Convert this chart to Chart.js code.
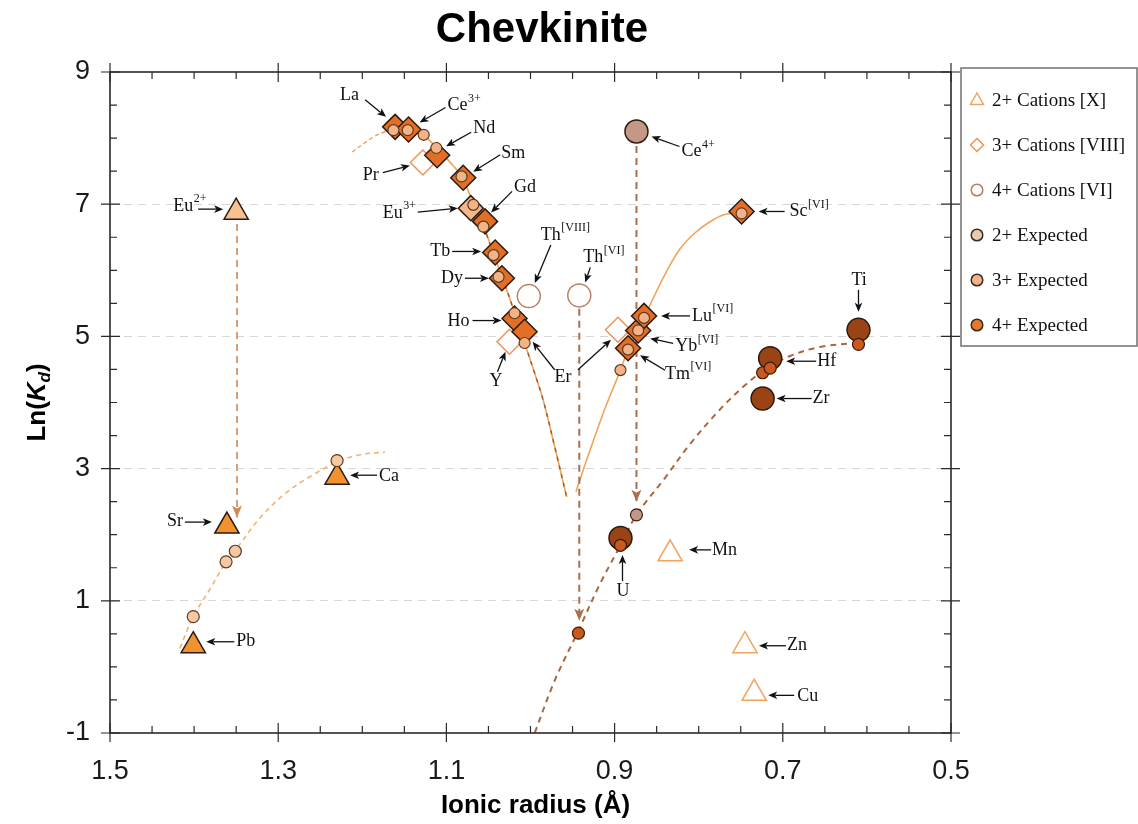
<!DOCTYPE html>
<html><head><meta charset="utf-8">
<script src="https://cdn.jsdelivr.net/npm/chart.js@4.4.1/dist/chart.umd.min.js"></script>
<style>html,body{margin:0;padding:0;background:#fff;}#wrap{width:1138px;height:824px;}</style>
</head><body><div id="wrap"><canvas id="c" width="1138" height="824"></canvas></div>
<script>
// ---------------- DATA ----------------
const xTickValues = [1.5, 1.3, 1.1, 0.9, 0.7, 0.5];
const yTickValues = [-1, 1, 3, 5, 7, 9];

const cat2Names  = ['Eu2+','Sr','Ca','Pb','Mn','Zn','Cu'];
const cat2Radius = [1.350, 1.361, 1.230, 1.401, 0.834, 0.745, 0.734];
const cat2LnKd   = [6.88, 2.13, 2.87, 0.32, 1.71, 0.32, -0.40];
const cat2Status = ['reduced','fit','fit','fit','other','other','other'];

const cat3Names  = ['La','Ce3+','Pr','Nd','Sm','Eu3+','Gd','Tb','Dy','Ho','Y','Er','Er[VI]','Tm[VI]','Yb[VI]','Lu[VI]','Sc[VI]'];
const cat3Radius = [1.161,1.145,1.128,1.111,1.080,1.071,1.054,1.042,1.034,1.019,1.025,1.007,0.896,0.884,0.872,0.865,0.749];
const cat3LnKd   = [8.17,8.13,7.63,7.74,7.40,6.94,6.74,6.27,5.88,5.27,4.92,5.07,5.10,4.82,5.09,5.31,6.89];
const cat3Status = ['fit','fit','other','fit','fit','reduced','fit','fit','fit','fit','other','fit','other','fit','fit','fit','fit'];

const cat4Names  = ['Ce4+','Th[VIII]','Th[VI]','U','Zr','Hf','Ti'];
const cat4Radius = [0.874,1.002,0.942,0.893,0.724,0.715,0.610];
const cat4LnKd   = [8.10,5.61,5.62,1.95,4.06,4.67,5.10];
const cat4Status = ['oxidised','other','other','fit','fit','fit','fit'];

const exp2Radius = [1.401,1.362,1.351,1.230];
const exp2LnKd   = [0.76,1.59,1.75,3.12];

const exp3Radius = [1.163,1.146,1.127,1.112,1.082,1.068,1.056,1.044,1.038,1.019,1.007,0.893,0.884,0.872,0.865,0.749];
const exp3LnKd   = [8.12,8.12,8.05,7.85,7.42,6.99,6.66,6.23,5.90,5.35,4.90,4.49,4.80,5.09,5.28,6.86];

const exp4Radius = [0.943,0.893,0.874,0.724,0.715,0.610];
const exp4LnKd   = [0.51,1.84,2.30,4.45,4.52,4.88];
const exp4Status = ['fit','fit','oxidised','fit','fit','fit'];

// fitted lattice-strain curves
const fit2Radius = [1.417,1.401,1.381,1.362,1.346,1.322,1.292,1.262,1.230,1.203,1.173];
const fit2LnKd   = [0.28,0.76,1.18,1.59,1.85,2.25,2.62,2.88,3.10,3.21,3.25];

const fit3LeadRadius = [1.212,1.197,1.185,1.173];
const fit3LeadLnKd   = [7.79,7.93,8.03,8.10];
const fit3LeftRadius = [1.173,1.163,1.146,1.127,1.112,1.096,1.082,1.068,1.056,1.044,1.032,1.019,1.007,0.996,0.985,0.971,0.957];
const fit3LeftLnKd   = [8.10,8.13,8.13,8.04,7.86,7.64,7.42,7.02,6.68,6.25,5.84,5.36,4.90,4.48,4.04,3.32,2.57];
const fit3RightRadius = [0.946,0.930,0.912,0.893,0.884,0.872,0.865,0.851,0.840,0.823,0.805,0.787,0.770,0.749];
const fit3RightLnKd   = [2.65,3.25,3.89,4.49,4.80,5.09,5.28,5.66,5.94,6.31,6.56,6.73,6.84,6.88];

const fit4Radius = [0.995,0.971,0.943,0.918,0.893,0.874,0.840,0.811,0.775,0.745,0.722,0.692,0.656,0.615];
const fit4LnKd   = [-1.0,-0.20,0.55,1.24,1.84,2.30,2.86,3.36,3.89,4.26,4.49,4.70,4.84,4.90];

const dropEu2Radius = [1.349,1.349]; const dropEu2LnKd = [6.70,2.26];
const dropCe4Radius = [0.874,0.874]; const dropCe4LnKd = [7.88,2.50];
const dropThRadius  = [0.942,0.942]; const dropThLnKd  = [5.42,0.70];

// ---------------- STYLE ----------------
const DARK = '#2b1a10';
const fill2 = {reduced:'#f7c190', fit:'#f2912f', other:'#ffffff'};
const line2 = {reduced:DARK, fit:DARK, other:'#f2a35e'};
const fill3 = {reduced:'#f4b68a', fit:'#e36f27', other:'#ffffff'};
const line3 = {reduced:DARK, fit:DARK, other:'#ec9358'};
const fill4 = {oxidised:'#c49886', fit:'#9a4416', other:'#ffffff'};
const line4 = {oxidised:DARK, fit:DARK, other:'#bb8068'};
const fillE4 = {oxidised:'#bf9a88', fit:'#c9591d'};

const pts = (xs, ys) => xs.map((x, i) => ({x, y: ys[i]}));
const SERIF = '"Liberation Serif","Times New Roman",serif';
const SANS = '"Liberation Sans",Arial,sans-serif';

function lineDS(label, xs, ys, color, width, dash, order, extra) {
  return Object.assign({label, data: pts(xs, ys), showLine: true, borderColor: color, backgroundColor: color,
    borderWidth: width, borderDash: dash, pointRadius: 0, pointHoverRadius: 0, tension: 0.35, order, fill: false}, extra || {});
}

const datasets = [
  {label:'2+ Cations [X]', data: pts(cat2Radius, cat2LnKd), pointStyle:'triangle', pointRadius:14,
   backgroundColor: cat2Status.map(s=>fill2[s]), borderColor: cat2Status.map(s=>line2[s]), borderWidth:1.5, order:1},
  {label:'3+ Cations [VIII]', data: pts(cat3Radius, cat3LnKd), pointStyle:'rectRot', pointRadius:12.5,
   backgroundColor: cat3Status.map(s=>fill3[s]), borderColor: cat3Status.map(s=>line3[s]), borderWidth:1.5, order:1},
  {label:'4+ Cations [VI]', data: pts(cat4Radius, cat4LnKd), pointStyle:'circle', pointRadius:11.5,
   backgroundColor: cat4Status.map(s=>fill4[s]), borderColor: cat4Status.map(s=>line4[s]), borderWidth:1.5, order:1},
  {label:'2+ Expected', data: pts(exp2Radius, exp2LnKd), pointStyle:'circle', pointRadius:6,
   backgroundColor:'#f8c8a0', borderColor:'#5a3c28', borderWidth:1.2, order:0},
  {label:'3+ Expected', data: pts(exp3Radius, exp3LnKd), pointStyle:'circle', pointRadius:5.5,
   backgroundColor:'#f3b386', borderColor:'#5a3a22', borderWidth:1.2, order:0},
  {label:'4+ Expected', data: pts(exp4Radius, exp4LnKd), pointStyle:'circle', pointRadius:6,
   backgroundColor: exp4Status.map(s=>fillE4[s]), borderColor:'#3a1c0c', borderWidth:1.2, order:0},
  lineDS('2+ fit', fit2Radius, fit2LnKd, '#f5b070', 1.6, [5,4], 3),
  lineDS('3+ fit (extrapolated)', fit3LeadRadius, fit3LeadLnKd, '#ee9c55', 1.4, [4,3], 3),
  lineDS('3+ fit [VIII]', fit3LeftRadius, fit3LeftLnKd, '#f0a35a', 1.6, [], 3),
  lineDS('3+ fit [VI]', fit3RightRadius, fit3RightLnKd, '#f0a35a', 1.6, [], 3),
  lineDS('3+ fit [VIII] overlay', fit3LeftRadius.filter(r=>r<=1.06), fit3LeftLnKd.filter((v,i)=>fit3LeftRadius[i]<=1.06), '#9a5a36', 1.4, [4,5], 2.5),
  lineDS('4+ fit', fit4Radius, fit4LnKd, '#a8683f', 2, [6,5], 3),
  lineDS('Eu2+ → Eu3+', dropEu2Radius, dropEu2LnKd, '#d08a55', 1.6, [7,5], 2, {tension:0, arrow:true}),
  lineDS('Ce4+ shift', dropCe4Radius, dropCe4LnKd, '#a8704f', 2, [7,5], 2, {tension:0, arrow:true}),
  lineDS('Th shift', dropThRadius, dropThLnKd, '#a8704f', 2, [7,5], 2, {tension:0, arrow:true}),
];

// label annotations: anchored to data points, offsets in px
const labels = [
  {set:1,i:0,t:'La',s:'',dx:-55,dy:-32},
  {set:1,i:1,t:'Ce',s:'3+',dx:39,dy:-24},
  {set:1,i:2,t:'Pr',s:'',dx:-60,dy:13},
  {set:1,i:3,t:'Nd',s:'',dx:36,dy:-27},
  {set:1,i:4,t:'Sm',s:'',dx:38,dy:-24},
  {set:1,i:5,t:'Eu',s:'3+',dx:-88,dy:5},
  {set:1,i:6,t:'Gd',s:'',dx:29,dy:-34},
  {set:1,i:7,t:'Tb',s:'',dx:-65,dy:-1},
  {set:1,i:8,t:'Dy',s:'',dx:-61,dy:0},
  {set:1,i:9,t:'Ho',s:'',dx:-67,dy:3},
  {set:1,i:10,t:'Y',s:'',dx:-20,dy:40},
  {set:1,i:11,t:'Er',s:'',dx:30,dy:45},
  {set:1,i:13,t:'Tm',s:'[VI]',dx:37,dy:26},
  {set:1,i:14,t:'Yb',s:'[VI]',dx:37,dy:16},
  {set:1,i:15,t:'Lu',s:'[VI]',dx:48,dy:0},
  {set:1,i:16,t:'Sc',s:'[VI]',dx:48,dy:0},
  {set:2,i:0,t:'Ce',s:'4+',dx:45,dy:20},
  {set:2,i:1,t:'Th',s:'[VIII]',dx:12,dy:-61},
  {set:2,i:2,t:'Th',s:'[VI]',dx:4,dy:-38},
  {set:2,i:3,t:'U',s:'',dx:-4,dy:53},
  {set:2,i:4,t:'Zr',s:'',dx:50,dy:0},
  {set:2,i:5,t:'Hf',s:'',dx:47,dy:3},
  {set:2,i:6,t:'Ti',s:'',dx:-7,dy:-50},
  {set:0,i:0,t:'Eu',s:'2+',dx:-63,dy:-6},
  {set:0,i:1,t:'Sr',s:'',dx:-60,dy:-5},
  {set:0,i:2,t:'Ca',s:'',dx:42,dy:-1},
  {set:0,i:3,t:'Pb',s:'',dx:43,dy:-4},
  {set:0,i:4,t:'Mn',s:'',dx:42,dy:-4},
  {set:0,i:5,t:'Zn',s:'',dx:42,dy:0},
  {set:0,i:6,t:'Cu',s:'',dx:43,dy:3},
];
const arrows = [
  {set:1,i:0,a:[-30,-27,-9,-10]},
  {set:1,i:1,a:[37,-22,11,-7]},
  {set:1,i:2,a:[-40,10,-13,3]},
  {set:1,i:3,a:[34,-23,9,-9]},
  {set:1,i:4,a:[37,-23,10,-6]},
  {set:1,i:5,a:[-53,4,-13,0]},
  {set:1,i:6,a:[27,-30,6,-9]},
  {set:1,i:7,a:[-43,-1,-14,-1]},
  {set:1,i:8,a:[-37,0,-13,0]},
  {set:1,i:9,a:[-42,2,-13,2]},
  {set:1,i:10,a:[-12,30,-4,10]},
  {set:1,i:11,a:[30,38,8,10]},
  {set:1,i:12,a:[-40,40,-7,10]},
  {set:1,i:13,a:[37,22,12,7]},
  {set:1,i:14,a:[35,13,12,8]},
  {set:1,i:15,a:[46,0,17,0]},
  {set:1,i:16,a:[43,0,17,0]},
  {set:2,i:0,a:[43,15,15,5]},
  {set:2,i:1,a:[22,-51,6,-13]},
  {set:2,i:2,a:[11,-28,6,-13]},
  {set:2,i:3,a:[2,43,2,17]},
  {set:2,i:4,a:[49,0,14,0]},
  {set:2,i:5,a:[46,3,16,3]},
  {set:2,i:6,a:[0,-40,0,-18]},
  {set:0,i:0,a:[-38,-3,-13,-3]},
  {set:0,i:1,a:[-42,-4,-15,-4]},
  {set:0,i:2,a:[40,-2,13,-2]},
  {set:0,i:3,a:[41,-4,13,-4]},
  {set:0,i:4,a:[41,-4,19,-4]},
  {set:0,i:5,a:[41,0,14,0]},
  {set:0,i:6,a:[40,2,14,2]},
];
const legendItems = [
  {ds:0, shape:'triangle', fill:'#ffffff', stroke:'#f2a35e'},
  {ds:1, shape:'diamond', fill:'#ffffff', stroke:'#ec9358'},
  {ds:2, shape:'circle', fill:'#ffffff', stroke:'#bb7a60'},
  {ds:3, shape:'circle', fill:'#e9cbb2', stroke:'#3a2a20'},
  {ds:4, shape:'circle', fill:'#f1b48a', stroke:'#3a2a20'},
  {ds:5, shape:'circle', fill:'#e37a2a', stroke:'#3a2a20'},
];

function arrowLine(ctx, x1, y1, x2, y2, color, w, head) {
  const ang = Math.atan2(y2 - y1, x2 - x1);
  const bx = x2 - Math.cos(ang) * head, by = y2 - Math.sin(ang) * head;
  ctx.strokeStyle = color; ctx.fillStyle = color; ctx.lineWidth = w;
  ctx.beginPath(); ctx.moveTo(x1, y1); ctx.lineTo(bx + Math.cos(ang)*2, by + Math.sin(ang)*2); ctx.stroke();
  ctx.beginPath();
  ctx.moveTo(x2, y2);
  ctx.lineTo(bx + Math.sin(ang) * head * 0.42, by - Math.cos(ang) * head * 0.42);
  ctx.lineTo(bx + Math.cos(ang) * head * 0.25, by + Math.sin(ang) * head * 0.25);
  ctx.lineTo(bx - Math.sin(ang) * head * 0.42, by + Math.cos(ang) * head * 0.42);
  ctx.closePath(); ctx.fill();
}

const decor = {
  id: 'decor',
  afterDatasetsDraw(chart) {
    const ctx = chart.ctx;
    // arrowheads on drop lines
    chart.data.datasets.forEach((ds, di) => {
      if (!ds.arrow) return;
      const meta = chart.getDatasetMeta(di);
      const p = meta.data[meta.data.length - 1];
      const q = meta.data[meta.data.length - 2];
      ctx.save(); ctx.setLineDash([]);
      const ang = Math.atan2(p.y - q.y, p.x - q.x), h = 12;
      const bx = p.x - Math.cos(ang) * h, by = p.y - Math.sin(ang) * h;
      ctx.fillStyle = ds.borderColor;
      ctx.beginPath(); ctx.moveTo(p.x, p.y);
      ctx.lineTo(bx + Math.sin(ang) * 5, by - Math.cos(ang) * 5);
      ctx.lineTo(bx + Math.cos(ang) * 3, by + Math.sin(ang) * 3);
      ctx.lineTo(bx - Math.sin(ang) * 5, by + Math.cos(ang) * 5);
      ctx.closePath(); ctx.fill();
      ctx.restore();
    });
  },
  afterDraw(chart) {
    const {ctx, chartArea: a, scales: {x, y}} = chart;
    ctx.save();
    // frame
    ctx.setLineDash([]);
    ctx.strokeStyle = '#2a2a2a'; ctx.lineWidth = 1.6;
    ctx.strokeRect(a.left, a.top, a.right - a.left, a.bottom - a.top);
    ctx.lineWidth = 1.2; ctx.beginPath();
    for (let k = 0; k <= 20; k++) {
      const v = 0.5 + k * 0.05, p = x.getPixelForValue(v);
      const major = xTickValues.some(t => Math.abs(t - v) < 1e-6);
      const inn = major ? 10 : 7, out = major ? 9 : 0;
      ctx.moveTo(p, a.bottom + out); ctx.lineTo(p, a.bottom - inn);
      ctx.moveTo(p, a.top - out); ctx.lineTo(p, a.top + inn);
    }
    for (let k = 0; k <= 20; k++) {
      const v = -1 + k * 0.5, p = y.getPixelForValue(v);
      const major = yTickValues.some(t => Math.abs(t - v) < 1e-6);
      const inn = major ? 10 : 7, out = major ? 9 : 0;
      ctx.moveTo(a.left - out, p); ctx.lineTo(a.left + inn, p);
      ctx.moveTo(a.right + out, p); ctx.lineTo(a.right - inn, p);
    }
    ctx.stroke();

    // title
    ctx.fillStyle = '#000'; ctx.textBaseline = 'middle'; ctx.textAlign = 'center';
    ctx.font = 'bold 42px ' + SANS;
    ctx.fillText('Chevkinite', 542, 30);
    // x title
    ctx.font = 'bold 26px ' + SANS;
    ctx.fillText('Ionic radius (Å)', (a.left + a.right) / 2 + 5, 806);
    // y title with italic K and subscript d
    ctx.save();
    ctx.translate(38, (a.top + a.bottom) / 2);
    ctx.rotate(-Math.PI / 2);
    ctx.textAlign = 'left';
    const parts = [['Ln(', 'bold 26px ' + SANS, 0], ['K', 'italic bold 26px ' + SANS, 0], ['d', 'italic bold 17px ' + SANS, 7], [')', 'bold 26px ' + SANS, 0]];
    let tw = 0; parts.forEach(p => { ctx.font = p[1]; tw += ctx.measureText(p[0]).width; });
    let cx = -tw / 2;
    parts.forEach(p => { ctx.font = p[1]; ctx.fillText(p[0], cx, p[2]); cx += ctx.measureText(p[0]).width; });
    ctx.restore();

    // annotations
    const anchor = (set, i) => { const d = chart.data.datasets[set].data[i]; return [x.getPixelForValue(d.x), y.getPixelForValue(d.y)]; };
    arrows.forEach(ar => {
      const [px, py] = anchor(ar.set, ar.i);
      arrowLine(ctx, px + ar.a[0], py + ar.a[1], px + ar.a[2], py + ar.a[3], '#111', 1.3, 9);
    });
    ctx.textAlign = 'left'; ctx.textBaseline = 'middle'; ctx.fillStyle = '#111';
    labels.forEach(l => {
      const [px, py] = anchor(l.set, l.i);
      ctx.font = '18px ' + SERIF;
      ctx.fillText(l.t, px + l.dx, py + l.dy);
      if (l.s) {
        const w = ctx.measureText(l.t).width;
        ctx.font = '12px ' + SERIF;
        ctx.fillText(l.s, px + l.dx + w + 0.5, py + l.dy - 7);
      }
    });

    // legend
    const lx = 961, ly = 68, lw = 176, lh = 278;
    ctx.fillStyle = '#fff'; ctx.fillRect(lx, ly, lw, lh);
    ctx.strokeStyle = '#707070'; ctx.lineWidth = 1.5; ctx.strokeRect(lx, ly, lw, lh);
    legendItems.forEach((it, k) => {
      const cy = ly + 32 + k * 45, mx = lx + 16;
      ctx.beginPath();
      if (it.shape === 'triangle') { ctx.moveTo(mx, cy - 7); ctx.lineTo(mx + 6.5, cy + 4.5); ctx.lineTo(mx - 6.5, cy + 4.5); ctx.closePath(); }
      else if (it.shape === 'diamond') { ctx.moveTo(mx, cy - 6.5); ctx.lineTo(mx + 6.5, cy); ctx.lineTo(mx, cy + 6.5); ctx.lineTo(mx - 6.5, cy); ctx.closePath(); }
      else { ctx.arc(mx, cy, 5.8, 0, Math.PI * 2); }
      ctx.fillStyle = it.fill; ctx.fill();
      ctx.strokeStyle = it.stroke; ctx.lineWidth = 1.5; ctx.stroke();
      ctx.fillStyle = '#111'; ctx.font = '19px ' + SERIF; ctx.textAlign = 'left'; ctx.textBaseline = 'middle';
      ctx.fillText(chart.data.datasets[it.ds].label, lx + 31, cy + 1);
    });
    ctx.restore();
  }
};

new Chart(document.getElementById('c'), {
  type: 'scatter',
  data: {datasets},
  options: {
    responsive: false, animation: false,
    layout: {padding: {top: 72, right: 187, left: 0, bottom: 0}},
    plugins: {legend: {display: false}, tooltip: {enabled: false}, title: {display: false}},
    scales: {
      x: {
        type: 'linear', reverse: true, min: 0.5, max: 1.5,
        afterBuildTicks: s => { s.ticks = xTickValues.map(v => ({value: v})); },
        afterFit: s => { s.height = 91; },
        ticks: {callback: v => Number(v).toFixed(1), padding: 22, color: '#1a1a1a', maxRotation: 0,
                font: {family: '"Liberation Sans Narrow","Liberation Sans",Arial,sans-serif', size: 27}},
        grid: {display: false, drawTicks: false},
        border: {display: false}
      },
      y: {
        type: 'linear', min: -1, max: 9,
        afterBuildTicks: s => { s.ticks = yTickValues.map(v => ({value: v})); },
        afterFit: s => { s.width = 110; },
        ticks: {padding: 20, color: '#1a1a1a',
                font: {family: '"Liberation Sans Narrow","Liberation Sans",Arial,sans-serif', size: 27}},
        grid: {drawTicks: false, lineWidth: 1, color: c => (c.tick && (c.tick.value === 9 || c.tick.value === -1)) ? 'rgba(0,0,0,0)' : '#d6d6d6'},
        border: {display: false, dash: [8, 6]}
      }
    }
  },
  plugins: [decor]
});
</script></body></html>
